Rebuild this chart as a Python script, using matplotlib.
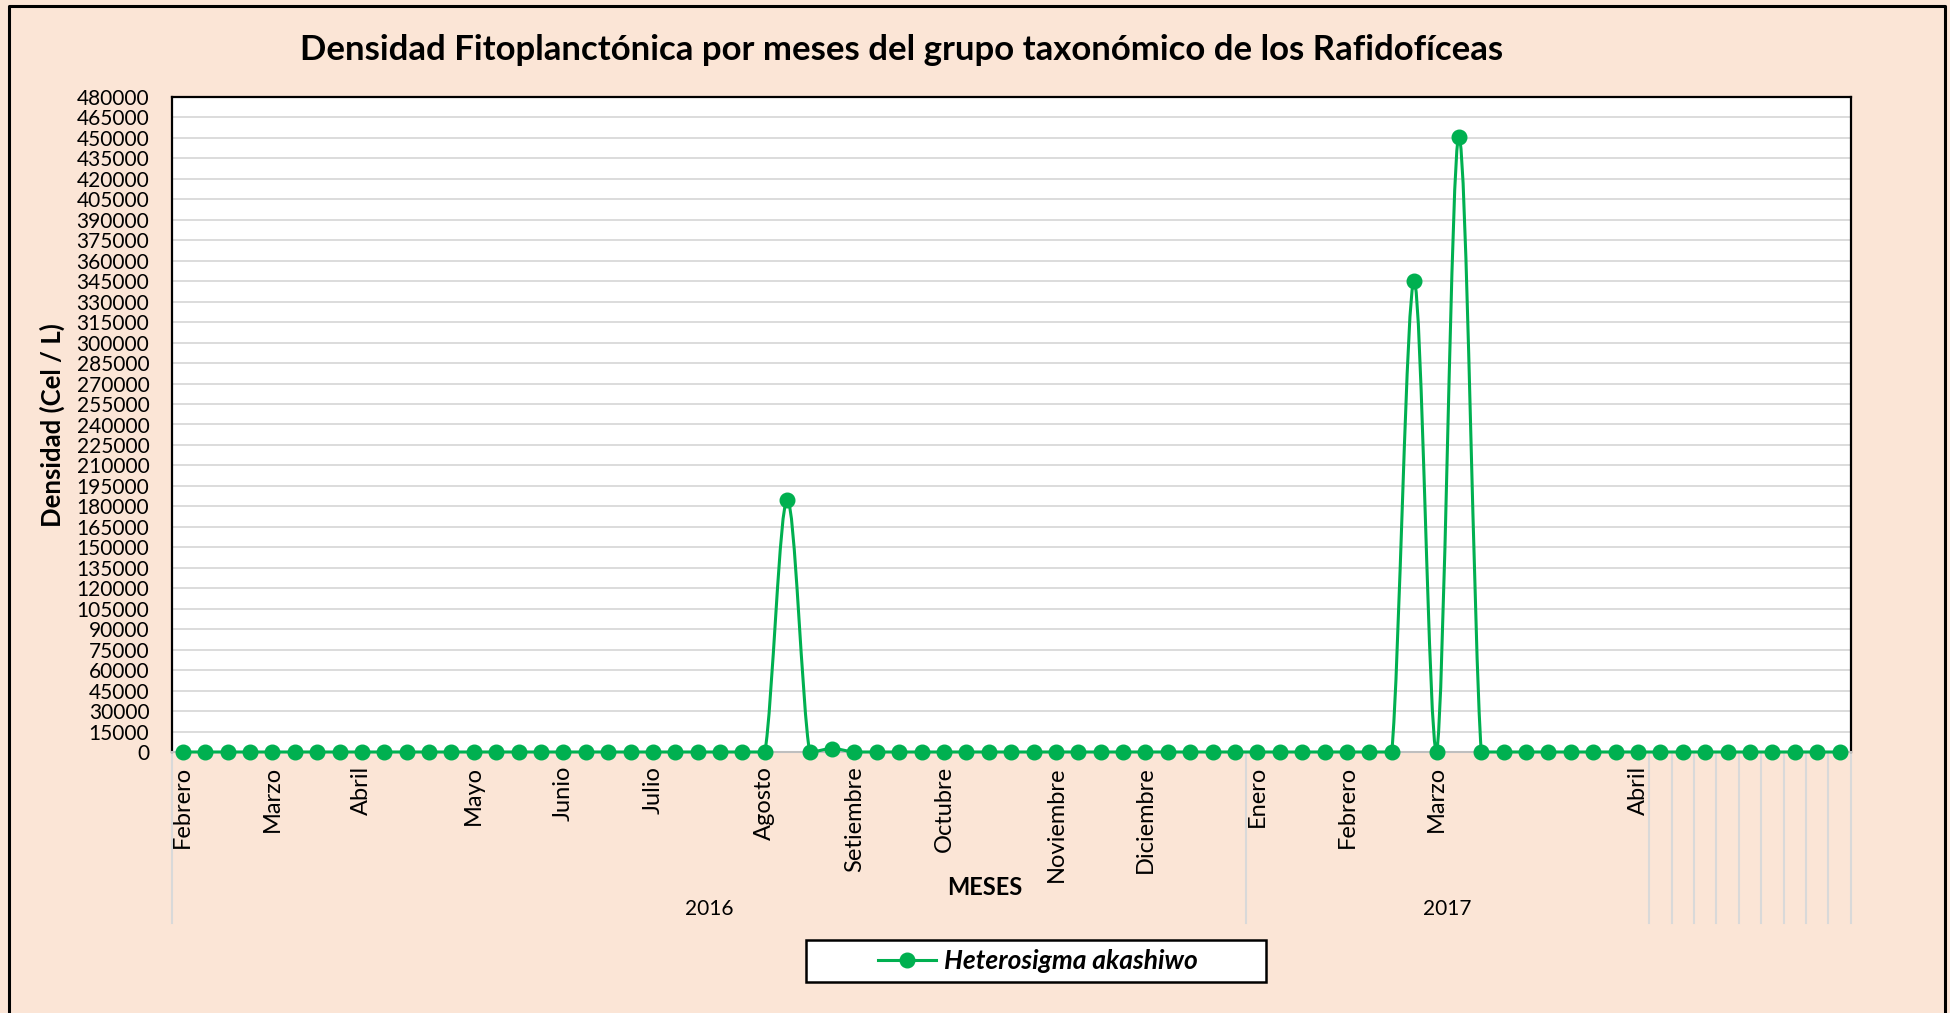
import numpy as np
import matplotlib
matplotlib.use("Agg")
import matplotlib.pyplot as plt
from matplotlib.path import Path
from matplotlib.patches import PathPatch, Rectangle
from matplotlib.lines import Line2D

plt.rcParams['font.family'] = ['Lato', 'DejaVu Sans']

# densidad de Heterosigma akashiwo por muestreo (Cel / L)
densidad = [
    0, 0, 0, 0, 0, 0, 0, 0, 0, 0,
    0, 0, 0, 0, 0, 0, 0, 0, 0, 0,
    0, 0, 0, 0, 0, 0, 0, 185000, 0, 2500,
    0, 0, 0, 0, 0, 0, 0, 0, 0, 0,
    0, 0, 0, 0, 0, 0, 0, 0, 0, 0,
    0, 0, 0, 0, 0, 345000, 0, 451000, 0, 0,
    0, 0, 0, 0, 0, 0, 0, 0, 0, 0,
    0, 0, 0, 0, 0,
]

# etiquetas de meses (solo en el primer muestreo de cada mes)
meses = ['Febrero', 'Marzo', 'Abril', 'Mayo', 'Junio', 'Julio', 'Agosto',
         'Setiembre', 'Octubre', 'Noviembre', 'Diciembre',
         'Enero', 'Febrero', 'Marzo', 'Abril']
mes_idx = [0, 4, 8, 13, 17, 21, 26, 30, 34, 39, 43, 48, 52, 56, 65]

anios = ['2016', '2017']
anio_ini = [0, 48]
anio_fin = [48, 66]

serie = 'Heterosigma akashiwo'
verde = '#00B050'
fondo = '#FBE5D6'
W, H = 1950, 1013


def suavizado(x, y):
    # curva tipo "linea suavizada" de Excel, sin pasarse de los extremos
    verts = [(x[0], y[0])]
    codes = [Path.MOVETO]
    n = len(x)
    for i in range(n - 1):
        j0 = max(i - 1, 0)
        j3 = min(i + 2, n - 1)
        lo, hi = min(y[i], y[i + 1]), max(y[i], y[i + 1])
        c1 = (x[i] + (x[i + 1] - x[j0]) / 6,
              np.clip(y[i] + (y[i + 1] - y[j0]) / 6, lo, hi))
        c2 = (x[i + 1] - (x[j3] - x[i]) / 6,
              np.clip(y[i + 1] - (y[j3] - y[i]) / 6, lo, hi))
        verts += [c1, c2, (x[i + 1], y[i + 1])]
        codes += [Path.CURVE4] * 3
    return Path(verts, codes)


n = len(densidad)
x = np.arange(n) + 0.5
y = np.array(densidad, dtype=float)

fig = plt.figure(figsize=(W / 100, H / 100), dpi=100, facecolor=fondo)
ax = fig.add_axes([171.6 / W, 1 - 752 / H, (1850.7 - 171.6) / W, (752 - 97) / H])
ax.set_facecolor('white')

# lineas de cuadricula
ax.set_ylim(0, 480000)
ax.set_xlim(0, n)
ax.set_yticks(np.arange(0, 480001, 15000))
ax.set_yticklabels([str(v) for v in range(0, 480001, 15000)], fontsize=15)
ax.tick_params(axis='y', length=0, pad=16)
ax.set_xticks([])
ax.grid(axis='y', color='#D9D9D9', lw=1.3)
ax.set_axisbelow(True)
for s in ['left', 'top', 'right']:
    ax.spines[s].set_color('black')
    ax.spines[s].set_linewidth(1.6)
ax.spines['bottom'].set_color('#BFBFBF')
ax.spines['bottom'].set_linewidth(1.5)

# serie
ax.add_patch(PathPatch(suavizado(x, y), fill=False, edgecolor=verde, lw=2.2, zorder=3, clip_on=False))
ax.plot(x, y, ls='none', marker='o', ms=10.5, color=verde, zorder=4, clip_on=False)

# eje de categorias multinivel
tr = ax.get_xaxis_transform()
ax_h = 752 - 97
for nombre, i in zip(meses, mes_idx):
    ax.text(i + 0.5, -14 / ax_h, nombre, rotation=90, ha='center', va='top',
            fontsize=17, transform=tr)
for nombre, a, b in zip(anios, anio_ini, anio_fin):
    ax.text((a + b) / 2, -157 / ax_h, nombre, ha='center', va='center',
            fontsize=15, transform=tr)
bordes = sorted(set(anio_ini + anio_fin + list(range(anio_fin[-1], n + 1))))
for b in bordes:
    ax.plot([b, b], [0, -171 / ax_h], color='#D9D9D9', lw=1.5, transform=tr, clip_on=False)

# textos
fig.text(902 / W, 1 - 50 / H, 'Densidad Fitoplanctónica por meses del grupo taxonómico de los Rafidofíceas',
         ha='center', va='center', fontsize=25, fontweight='bold')
fig.text(52 / W, 1 - 425 / H, 'Densidad (Cel / L)', rotation=90, ha='center', va='center',
         fontsize=18.5, fontweight='bold')
fig.text(985 / W, 1 - 887 / H, 'MESES', ha='center', va='center', fontsize=17, fontweight='bold')

# leyenda
fig.patches.append(Rectangle((806 / W, 1 - 982 / H), 460 / W, 42 / H, transform=fig.transFigure,
                             facecolor='white', edgecolor='black', lw=1.8, zorder=1))
h = [Line2D([], [], color=verde, lw=2.2, marker='o', ms=10.5)]
leg = fig.legend(h, [serie], loc='center', bbox_to_anchor=(1038 / W, 1 - 961 / H),
                 frameon=False, handlelength=2.2, handletextpad=0.3,
                 prop={'weight': 'bold', 'style': 'italic', 'size': 19})
leg.set_zorder(2)

# borde exterior
fig.lines.append(Line2D([9 / W, 9 / W, 1945 / W, 1945 / W], [0, 1 - 6 / H, 1 - 6 / H, 0],
                        transform=fig.transFigure, color='black', lw=2.2))

fig.savefig('out.png', dpi=100, facecolor=fondo)
